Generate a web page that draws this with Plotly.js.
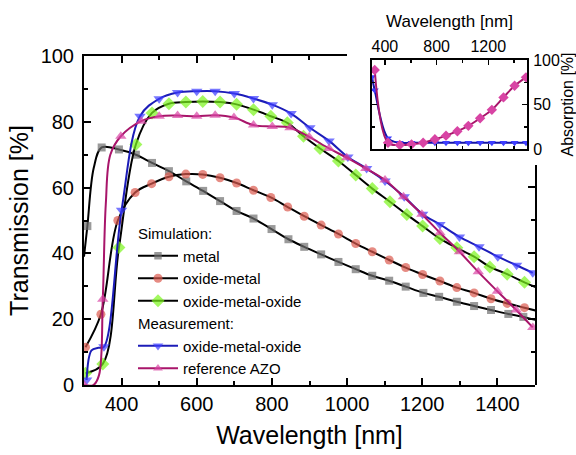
<!DOCTYPE html>
<html>
<head>
<meta charset="utf-8">
<script src="https://cdn.plot.ly/plotly-3.0.1.min.js"></script>
<style>html,body{margin:0;padding:0;background:#fff;}#chart{width:576px;height:455px;}</style>
</head>
<body>
<div id="chart"></div>
<script>
// ---- Main panel: transmission [%] vs wavelength [nm] (marked points) ----
var metalX = [309, 347, 393, 438, 481, 526, 572, 617, 662, 706, 751, 799, 844, 886, 931, 977, 1023, 1067, 1112, 1156, 1203, 1245, 1292, 1338, 1383, 1429, 1469, 1514];
var metalY = [48.3, 72.2, 71.6, 70, 67.5, 65, 61.9, 59, 55.9, 52.9, 50.6, 47.4, 44.3, 42, 39.7, 37.4, 35.2, 33.2, 31.7, 29.9, 28, 26.8, 25.3, 24, 22.8, 21.6, 20.7, 19.4];
// unmarked curve points
var metalLineX = [300, 326];
var metalLineY = [39, 66];

var oxMetX = [304, 345, 390, 436, 480, 526, 571, 616, 662, 706, 751, 797, 842, 886, 931, 977, 1023, 1067, 1112, 1156, 1201, 1247, 1292, 1338, 1383, 1426, 1472, 1517];
var oxMetY = [11.5, 21.5, 50, 58.5, 61.2, 63.3, 64.1, 64, 63, 61.4, 59.2, 57, 54.1, 51.3, 48.6, 45.9, 43, 40.5, 38, 35.7, 33.6, 31.6, 29.6, 28, 26.2, 24.8, 23.5, 22.2];
var oxMetLineX = [];
var oxMetLineY = [];

var omoSimX = [304, 350, 393, 438, 481, 526, 571, 616, 662, 706, 751, 797, 841, 884, 928, 977, 1023, 1067, 1114, 1159, 1201, 1247, 1292, 1338, 1380, 1426, 1472, 1517];
var omoSimY = [3.6, 6.4, 41.8, 73.1, 82.7, 85.5, 86, 86.2, 86, 85.3, 83.7, 81.7, 79.7, 75.6, 71.9, 68.1, 63.8, 59.7, 55.7, 51.8, 48.3, 44.5, 41.7, 39, 35.9, 33.7, 31.2, 29];
var omoSimLineX = [];
var omoSimLineY = [];

var omoMeasX = [307, 353, 400, 449, 500, 549, 600, 649, 700, 751, 801, 851, 901, 952, 1002, 1052, 1101, 1152, 1201, 1247, 1299, 1351, 1401, 1451, 1494];
var omoMeasY = [1.5, 11.6, 53.1, 81.7, 87, 88.9, 89.3, 89.3, 88.6, 87.1, 85.2, 82.5, 78.2, 74.2, 69.3, 65.8, 62, 57.2, 51.9, 48.8, 45, 42, 39, 36.4, 34.1];
var omoMeasLineX = [320, 338];
var omoMeasLineY = [10.5, 11.3];

var azoX = [300, 350, 398, 452, 500, 549, 600, 649, 699, 751, 801, 848, 899, 952, 999, 1050, 1101, 1150, 1199, 1247, 1299, 1349, 1400, 1450, 1494];
var azoY = [0, 26.1, 75.6, 80.2, 81.7, 81.9, 81.7, 82, 81.3, 79, 78.6, 78.2, 75.4, 71.9, 69.1, 65.8, 62.3, 57.2, 51.9, 46.3, 40.5, 34.4, 28.5, 22.8, 17.5];
var azoLineX = [325, 340, 358, 370];
var azoLineY = [0, 3, 55, 70];

// ---- Inset: absorption [%] vs wavelength [nm] ----
var absOmoX = [300, 321, 424, 515, 606, 696, 787, 873, 961, 1046, 1137, 1228, 1318, 1404, 1492];
var absOmoY = [81, 66, 12, 7, 7, 7, 7, 7, 7, 7, 7, 7, 7, 7, 7];
var absAzoX = [321, 424, 515, 606, 696, 787, 873, 961, 1046, 1137, 1228, 1318, 1404, 1492];
var absAzoY = [88.8, 7, 4.5, 5.2, 7, 10.9, 15, 20, 26, 34.5, 44, 58, 71, 80.5];

var FONT = 'Liberation Sans, Arial, sans-serif';

// merge marked points and unmarked line points; unmarked ones get marker size 0
function merge(mx, my, lx, ly, size) {
  var pts = [];
  for (var i = 0; i < mx.length; i++) pts.push([mx[i], my[i], size]);
  for (var j = 0; j < lx.length; j++) pts.push([lx[j], ly[j], 0]);
  pts.sort(function (a, b) { return a[0] - b[0]; });
  return {x: pts.map(function (p) { return p[0]; }),
          y: pts.map(function (p) { return p[1]; }),
          s: pts.map(function (p) { return p[2]; })};
}

function series(name, group, title, mx, my, lx, ly, sym, lcol, mcol, size) {
  var m = merge(mx, my, lx, ly, size);
  var t = {
    x: m.x, y: m.y, name: name, type: 'scatter', mode: 'lines+markers',
    line: {color: lcol, width: 2, shape: 'spline', smoothing: 1},
    marker: {symbol: sym, color: mcol, size: m.s, line: {width: 0}},
    legendgroup: group, xaxis: 'x', yaxis: 'y'
  };
  if (title) t.legendgrouptitle = {text: title, font: {size: 15, family: FONT, color: '#000'}};
  return t;
}

var data = [
  series('metal', 'sim', 'Simulation:', metalX, metalY, metalLineX, metalLineY, 'square', '#000000', '#6f6f6f', 8),
  series('oxide-metal', 'sim', null, oxMetX, oxMetY, oxMetLineX, oxMetLineY, 'circle', '#000000', '#dc5a4f', 9),
  series('oxide-metal-oxide', 'sim', null, omoSimX, omoSimY, omoSimLineX, omoSimLineY, 'diamond', '#000000', '#7cf51c', 10),
  series('oxide-metal-oxide', 'meas', 'Measurement:', omoMeasX, omoMeasY, omoMeasLineX, omoMeasLineY, 'triangle-down', '#1c1cb8', '#3d3dff', 10),
  series('reference AZO', 'meas', null, azoX, azoY, azoLineX, azoLineY, 'triangle-up', '#a8156a', '#d844a4', 10),
  // frame helpers (no data)
  {x: [], y: [], xaxis: 'x2', yaxis: 'y', showlegend: false, hoverinfo: 'skip', type: 'scatter'},
  {x: [], y: [], xaxis: 'x', yaxis: 'y2', showlegend: false, hoverinfo: 'skip', type: 'scatter'},
  // inset
  {x: absOmoX, y: absOmoY, type: 'scatter', mode: 'lines+markers', showlegend: false,
   line: {color: '#1414a8', width: 2, shape: 'spline', smoothing: 1},
   marker: {symbol: 'triangle-down', color: '#3d3dff', size: 7}, xaxis: 'x3', yaxis: 'y3'},
  {x: absAzoX, y: absAzoY, type: 'scatter', mode: 'lines+markers', showlegend: false,
   line: {color: '#a8156a', width: 2, shape: 'spline', smoothing: 1},
   marker: {symbol: 'diamond', color: '#d844a4', size: 8}, xaxis: 'x3', yaxis: 'y3'}
];

var W = 576, H = 455, L = 84, R = 41, T = 56, B = 70;
var pw = W - L - R, ph = H - T - B;
function px2fx(p) { return (p - L) / pw; }
function px2fy(p) { return (H - B - p) / ph; }

var tickFont = {family: FONT, size: 20, color: '#000'};
var layout = {
  width: W, height: H,
  margin: {l: L, r: R, t: T, b: B, pad: 0},
  paper_bgcolor: '#ffffff', plot_bgcolor: 'rgba(0,0,0,0)',
  font: {family: FONT, color: '#000'},
  showlegend: true,
  legend: {x: px2fx(133), y: px2fy(217), xanchor: 'left', yanchor: 'top',
    bgcolor: 'rgba(0,0,0,0)', font: {family: FONT, size: 15, color: '#000'},
    traceorder: 'grouped', tracegroupgap: 0, itemwidth: 40},
  xaxis: {
    domain: [0, 1], range: [300, 1500], anchor: 'y',
    showline: true, linecolor: '#000', linewidth: 2, mirror: false,
    ticks: 'inside', ticklen: 7, tickwidth: 2, tickcolor: '#000', tick0: 0, dtick: 200,
    minor: {ticks: 'inside', ticklen: 4, tickwidth: 2, tickcolor: '#000', dtick: 100, showgrid: false},
    showgrid: false, zeroline: false, tickfont: tickFont,
    title: {text: 'Wavelength [nm]', font: {family: FONT, size: 25, color: '#000'}, standoff: 12}
  },
  yaxis: {
    domain: [0, 1], range: [0, 100], anchor: 'x',
    showline: true, linecolor: '#000', linewidth: 2, mirror: false,
    ticks: 'inside', ticklen: 7, tickwidth: 2, tickcolor: '#000', dtick: 20,
    minor: {ticks: 'inside', ticklen: 4, tickwidth: 2, tickcolor: '#000', dtick: 10, showgrid: false},
    showgrid: false, zeroline: false, tickfont: tickFont, ticklabelstandoff: 4,
    title: {text: 'Transmission [%]', font: {family: FONT, size: 25, color: '#000'}, standoff: 5}
  },
  xaxis2: {
    domain: [0, px2fx(347)], range: [300, 1000], anchor: 'y', side: 'top',
    showline: true, linecolor: '#000', linewidth: 2,
    ticks: 'inside', ticklen: 7, tickwidth: 2, tickcolor: '#000', tick0: 0, dtick: 200,
    minor: {ticks: 'inside', ticklen: 4, tickwidth: 2, tickcolor: '#000', dtick: 100, showgrid: false},
    showticklabels: false, showgrid: false, zeroline: false
  },
  yaxis2: {
    domain: [0, px2fy(165)], range: [0, (385 - 165) / 3.293], anchor: 'x', side: 'right',
    showline: true, linecolor: '#000', linewidth: 2,
    ticks: 'inside', ticklen: 7, tickwidth: 2, tickcolor: '#000', dtick: 20,
    minor: {ticks: 'inside', ticklen: 4, tickwidth: 2, tickcolor: '#000', dtick: 10, showgrid: false},
    showticklabels: false, showgrid: false, zeroline: false
  },
  xaxis3: {
    domain: [px2fx(372), px2fx(527)], range: [300, 1500], anchor: 'y3', side: 'top',
    showline: true, linecolor: '#000', linewidth: 2, mirror: 'ticks',
    ticks: 'inside', ticklen: 5, tickwidth: 1.5, tickcolor: '#000', tickvals: [400, 800, 1200],
    minor: {ticks: 'inside', ticklen: 3, tickwidth: 1.5, tickcolor: '#000', dtick: 200, tick0: 0, showgrid: false},
    showgrid: false, zeroline: false, tickfont: {family: FONT, size: 16, color: '#000'},
    title: {text: 'Wavelength [nm]', font: {family: FONT, size: 17, color: '#000'}, standoff: 6}
  },
  yaxis3: {
    domain: [px2fy(149), px2fy(60)], range: [0, 100], anchor: 'x3', side: 'right',
    showline: true, linecolor: '#000', linewidth: 2, mirror: 'ticks',
    ticks: 'inside', ticklen: 5, tickwidth: 1.5, tickcolor: '#000', dtick: 50,
    minor: {ticks: 'inside', ticklen: 3, tickwidth: 1.5, tickcolor: '#000', dtick: 25, showgrid: false},
    showgrid: false, zeroline: false, tickfont: {family: FONT, size: 16, color: '#000'}, ticklabelstandoff: 1,
    title: {text: 'Absorption [%]', font: {family: FONT, size: 16, color: '#000'}, standoff: 4}
  }
};

Plotly.newPlot('chart', data, layout, {staticPlot: true, displayModeBar: false});
</script>
</body>
</html>
